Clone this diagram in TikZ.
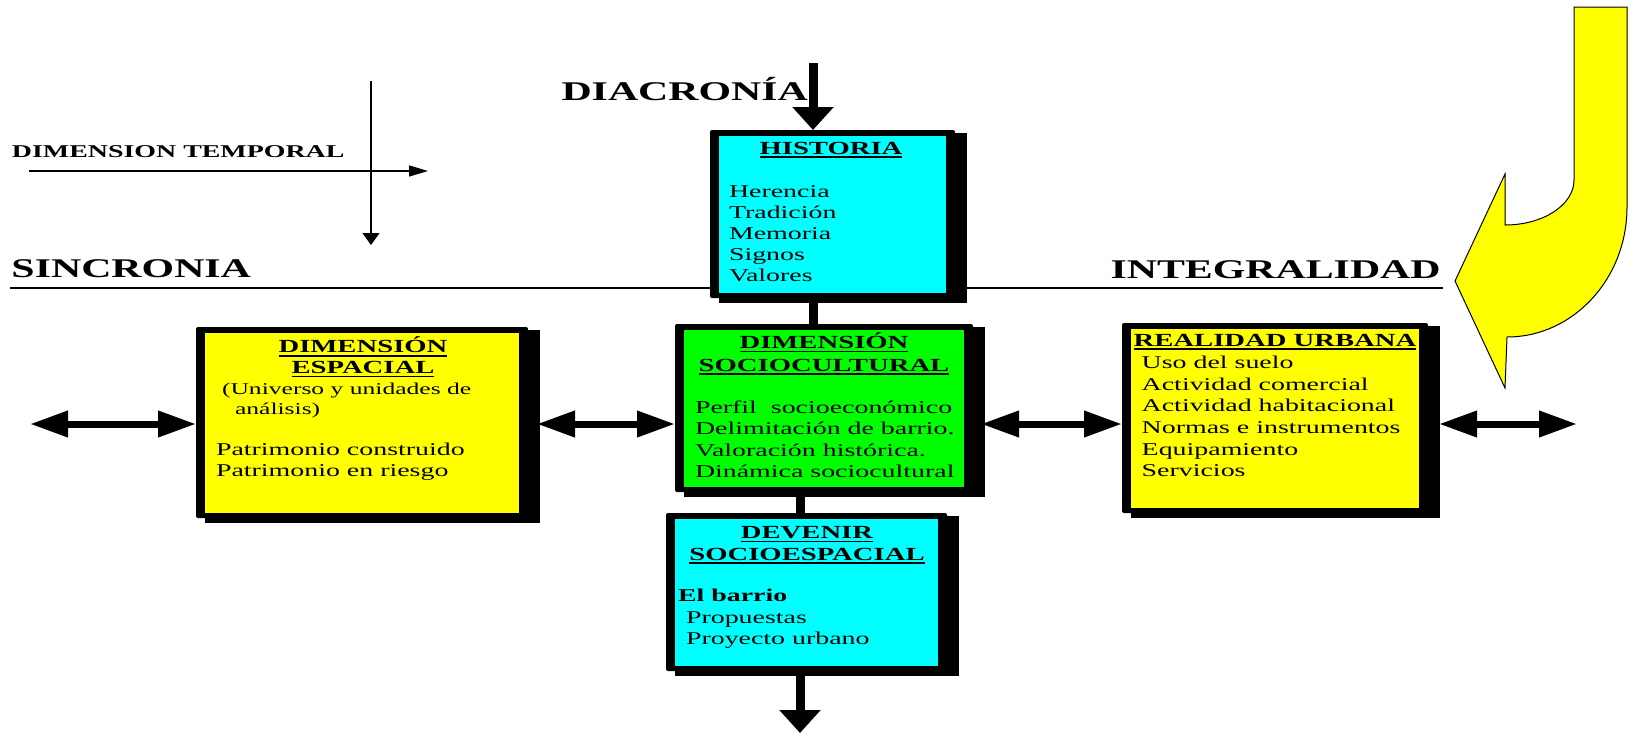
\documentclass[tikz,border=0pt]{standalone}
\usepackage{fontspec}
\setmainfont{Liberation Serif}[FakeStretch=1.55]
\usetikzlibrary{arrows.meta,calc}
\pgfdeclarelayer{bg}
\pgfsetlayers{bg,main}
\definecolor{cyanbox}{HTML}{00FFFF}
\definecolor{greenbox}{HTML}{00FF00}
\definecolor{yellowbox}{HTML}{FFFF00}
\newcommand\ulx[1]{\setbox0\hbox{#1}\rlap{\rule[-4pt]{\wd0}{1.8pt}}\box0}
% name, x1, y1, x2, y2, colour
\newcommand\mkbox[6]{%
  \fill[black] (#2+9,#3+3) rectangle (#4+12,#5+5);
  \node[frame, minimum width={#4-#2}, minimum height={#5-#3}] (#1) at ({(#2+#4)/2},{(#3+#5)/2}) {};
  \fill[#6] ($(#1.north west)+(9,5.5)$) rectangle ($(#1.south east)+(-9,-5.5)$);
}
\begin{document}
\begin{tikzpicture}[x=1pt,y=-1pt,
  txt/.style={inner sep=0pt, outer sep=0pt, anchor=base west, font=\fontsize{18}{21}\selectfont},
  small/.style={inner sep=0pt, outer sep=0pt, anchor=base west, font=\fontsize{16.5}{20}\selectfont},
  ttl/.style={inner sep=0pt, outer sep=0pt, anchor=base, font=\fontsize{18.5}{21}\selectfont\bfseries},
  big/.style={inner sep=0pt, outer sep=0pt, anchor=base west, font=\fontsize{27}{30}\selectfont\bfseries},
  frame/.style={fill=black, inner sep=0pt, outer sep=0pt, rounded corners=2pt},
  bigarrow/.style={line width=9pt, -{Triangle[length=23pt,width=40pt]}},
  shaft/.style={line width=9pt},
  dbl/.style={line width=7pt, {Triangle[length=38pt,width=25pt]}-{Triangle[length=38pt,width=25pt]}},
  thinline/.style={line width=1.3pt}
]
\useasboundingbox (0,0) rectangle (1628,734);

% coordinates
\coordinate (xa) at (813,0);
\coordinate (xb) at (800,0);
\coordinate (yl) at (0,424);
\coordinate (topS) at (813,63);
\coordinate (botE) at (800,733);
\coordinate (lE) at (30,424);
\coordinate (rE) at (1577,424);
\coordinate (t1) at (29,171);
\coordinate (t2) at (428,171);
\coordinate (t3) at (371,81);
\coordinate (t4) at (371,245);
\coordinate (l1) at (10,288);
\coordinate (l2) at (1443,288);

% boxes
\mkbox{hist}{710}{130}{955}{298}{cyanbox}
\mkbox{esp}{196}{327}{528}{518}{yellowbox}
\mkbox{soc}{675}{324}{973}{492}{greenbox}
\mkbox{dev}{666}{513}{947}{671}{cyanbox}
\mkbox{real}{1122}{323}{1428}{513}{yellowbox}

% background and lines behind the boxes
\begin{pgfonlayer}{bg}
  \fill[white] (0,0) rectangle (1628,734);
  \draw[line width=2pt] (l1) -- (l2);
  \draw[shaft] (hist.center -| xa) -- (soc.center -| xa);
  \draw[shaft] (soc.center -| xb) -- (dev.center -| xb);
\end{pgfonlayer}

% connectors
\draw[bigarrow] (topS) -- (hist.north -| xa);
\draw[bigarrow] (dev.south -| xb) -- (botE);
\draw[dbl] (lE) -- (esp.west |- yl);
\draw[dbl] ([xshift=9pt]esp.east |- yl) -- (soc.west |- yl);
\draw[dbl] ([xshift=8pt]soc.east |- yl) -- (real.west |- yl);
\draw[dbl] ([xshift=11pt]real.east |- yl) -- (rE);

% dimension temporal axes
\draw[thinline, -{Triangle[length=19pt,width=11pt]}] (t1) -- (t2);
\draw[thinline, -{Triangle[length=12pt,width=17pt]}] (t3) -- (t4);

% labels
\node[txt, font=\fontsize{18}{21}\selectfont\bfseries] (dt) at (12,157) {DIMENSION TEMPORAL};
\node[big] (sinc) at (11.5,277.7) {SINCRONIA};
\node[big] (integ) at (1110.5,278.3) {INTEGRALIDAD};
\node[big] (diac) at (561.5,100.7) {DIACRONÍA};

% HISTORIA
\node[ttl] (histT) at (831,154) {\ulx{HISTORIA}};
\node[txt] (h1) at (729,197.7) {Herencia};
\node[txt] (h2) at (729,218.5) {Tradición};
\node[txt] (h3) at (729,239.5) {Memoria};
\node[txt] (h4) at (729,260.5) {Signos};
\node[txt] (h5) at (729,281.5) {Valores};

% DIMENSION ESPACIAL
\node[ttl] (espT1) at (363,352.7) {\ulx{DIMENSIÓN}};
\node[ttl] (espT2) at (363,373.3) {\ulx{ESPACIAL}};
\node[small] (e1) at (222,394.5) {(Universo y unidades de};
\node[small] (e2) at (235,414) {análisis)};
\node[txt] (e3) at (216,455.3) {Patrimonio construido};
\node[txt] (e4) at (216,476.7) {Patrimonio en riesgo};

% DIMENSION SOCIOCULTURAL
\node[ttl] (socT1) at (824,348.3) {\ulx{DIMENSIÓN}};
\node[ttl] (socT2) at (824,371) {\ulx{SOCIOCULTURAL}};
\node[txt] (s1) at (695,413) {Perfil\ \ socioeconómico};
\node[txt] (s2) at (695,434.5) {Delimitación de barrio.};
\node[txt] (s3) at (695,456) {Valoración histórica.};
\node[txt] (s4) at (695,477.5) {Dinámica sociocultural};

% DEVENIR SOCIOESPACIAL
\node[ttl] (devT1) at (807,538.3) {\ulx{DEVENIR}};
\node[ttl] (devT2) at (807,560) {\ulx{SOCIOESPACIAL}};
\node[txt, font=\fontsize{18}{21}\selectfont\bfseries] (d1) at (678,601.7) {El barrio};
\node[txt] (d2) at (686,623.3) {Propuestas};
\node[txt] (d3) at (686,644) {Proyecto urbano};

% REALIDAD URBANA
\node[ttl] (realT) at (1275,346) {\ulx{REALIDAD URBANA}};
\node[txt] (r1) at (1141.7,368.3) {Uso del suelo};
\node[txt] (r2) at (1141.7,390) {Actividad comercial};
\node[txt] (r3) at (1141.7,411.7) {Actividad habitacional};
\node[txt] (r4) at (1141.7,433.3) {Normas e instrumentos};
\node[txt] (r5) at (1141.7,455) {Equipamiento};
\node[txt] (r6) at (1141.7,476) {Servicios};

% yellow curved arrow
\filldraw[fill=yellowbox, draw=black, line width=1pt]
  (1574,7) -- (1627,7) -- (1627,207)
  .. controls (1627,279) and (1573,337) .. (1507,337)
  -- (1505,388) -- (1455,281) -- (1505,174) -- (1505,225)
  .. controls (1543,225) and (1574,205) .. (1574,180)
  -- cycle;
\end{tikzpicture}
\end{document}
